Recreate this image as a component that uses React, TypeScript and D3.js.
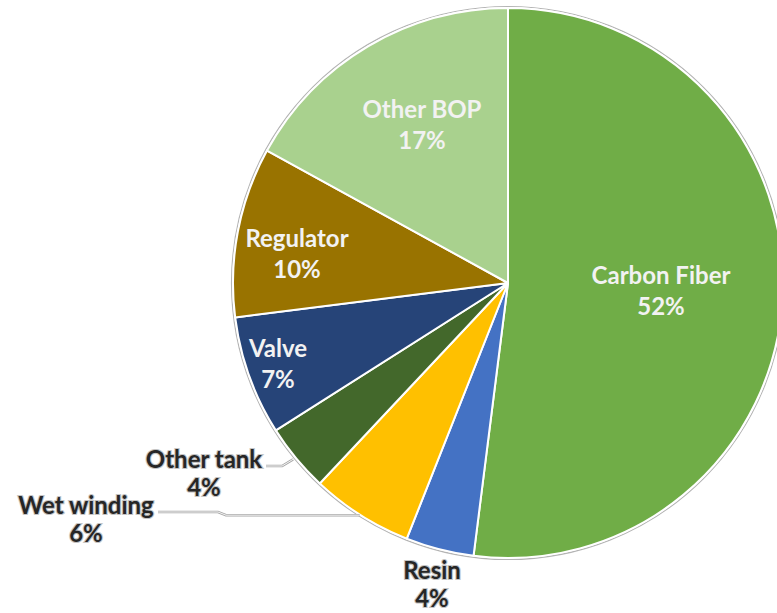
import React from "react";
import * as d3 from "d3";

const categories = ["Carbon Fiber", "Resin", "Wet winding", "Other tank", "Valve", "Regulator", "Other BOP"];
const values = [52, 4, 6, 4, 7, 10, 17];
const colors = ["#70AD47", "#4472C4", "#FFC000", "#43682B", "#264478", "#997300", "#A9D18E"];
const labelInside = [true, false, false, false, true, true, true];
// label anchor (baseline of first line, centre x)
const labelAnchors: [number, number][] = [
  [661, 284],
  [432, 579],
  [86, 514],
  [204, 468],
  [278, 357],
  [297, 247],
  [422, 118],
];

const W = 777;
const H = 613;
const CX = 508;
const CY = 283;
const R = 275;

export default function App() {
  const pie = d3.pie<number>().sort(null).value((d) => d)(values);
  const arc = d3.arc<d3.PieArcDatum<number>>().innerRadius(0).outerRadius(R);
  const total = d3.sum(values);

  const edgePoint = (a: d3.PieArcDatum<number>) => {
    const m = (a.startAngle + a.endAngle) / 2;
    return [CX + R * Math.sin(m), CY - R * Math.cos(m)];
  };

  const leaders: { points: [number, number][] }[] = [];
  // Other tank leader
  {
    const i = 3;
    const [ex, ey] = edgePoint(pie[i]);
    const [lx, ly] = labelAnchors[i];
    leaders.push({ points: [[lx + 62, ly - 2], [ex - 14, ly - 2], [ex - 3, ey + 1]] });
  }
  // Wet winding leader
  {
    const i = 2;
    const [ex, ey] = edgePoint(pie[i]);
    const [lx, ly] = labelAnchors[i];
    leaders.push({ points: [[lx + 72, ly - 2], [lx + 132, ly - 2], [lx + 140, ey], [ex - 1, ey]] });
  }

  const font = "Lato, 'Open Sans', sans-serif";

  return (
    <svg width={W} height={H} style={{ position: "absolute", left: 0, top: 0, background: "#fff" }}>
      <circle cx={CX} cy={CY} r={R + 1.5} fill="none" stroke="#b4b4b4" strokeWidth={1.2} />
      <g transform={`translate(${CX},${CY})`}>
        {pie.map((p, i) => (
          <path key={i} d={arc(p) || ""} fill={colors[i]} stroke="#ffffff" strokeWidth={2} strokeLinejoin="round" />
        ))}
      </g>
      {leaders.map((l, i) => (
        <g key={i}>
          <polyline points={l.points.map((p) => p.join(",")).join(" ")} fill="none" stroke="#a6a6a6" strokeWidth={2.6} />
          <polyline points={l.points.map((p) => p.join(",")).join(" ")} fill="none" stroke="#f4f4f4" strokeWidth={1} />
        </g>
      ))}
      {categories.map((c, i) => {
        const [x, y] = labelAnchors[i];
        const pct = `${Math.round((values[i] / total) * 100)}%`;
        const inside = labelInside[i];
        const common = {
          textAnchor: "middle" as const,
          fontFamily: font,
          fontWeight: 700,
          fontSize: 24,
        };
        return inside ? (
          <text key={c} {...common} fill="#f2f2f2">
            <tspan x={x} y={y}>{c}</tspan>
            <tspan x={x} y={y + 31}>{pct}</tspan>
          </text>
        ) : (
          <text
            key={c}
            {...common}
            fill="#262626"
            stroke="#c4c4c4"
            strokeWidth={2.2}
            style={{ paintOrder: "stroke" }}
          >
            <tspan x={x} y={y}>{c}</tspan>
            <tspan x={x} y={y + 28}>{pct}</tspan>
          </text>
        );
      })}
    </svg>
  );
}
